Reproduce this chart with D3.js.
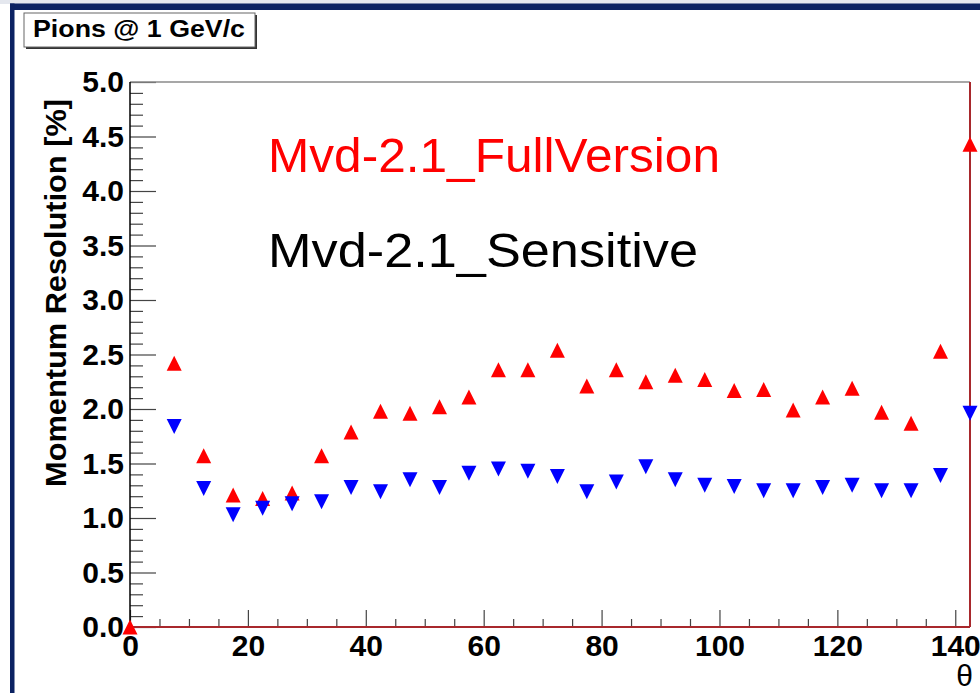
<!DOCTYPE html>
<html>
<head>
<meta charset="utf-8">
<script src="https://cdn.jsdelivr.net/npm/d3@7"></script>
<style>
  html, body { margin: 0; padding: 0; background: #ffffff; }
  svg { display: block; }
  text { font-family: "Liberation Sans", Arial, Helvetica, sans-serif; }
</style>
</head>
<body>
<svg id="chart" width="980" height="693"></svg>
<script>
// ---- data ----
const theta = [0, 7.5, 12.5, 17.5, 22.5, 27.5, 32.5, 37.5, 42.5, 47.5, 52.5, 57.5, 62.5, 67.5,
  72.5, 77.5, 82.5, 87.5, 92.5, 97.5, 102.5, 107.5, 112.5, 117.5, 122.5, 127.5, 132.5, 137.5, 142.5];
const fullVersion = [0, 2.42, 1.57, 1.21, 1.18, 1.23, 1.57, 1.79, 1.98, 1.96, 2.02, 2.11, 2.36, 2.36,
  2.54, 2.21, 2.36, 2.25, 2.31, 2.27, 2.17, 2.18, 1.99, 2.11, 2.19, 1.97, 1.87, 2.53, 4.43];
const sensitive = [null, 1.84, 1.27, 1.03, 1.09, 1.13, 1.15, 1.28, 1.24, 1.35, 1.28, 1.41, 1.45, 1.43,
  1.38, 1.24, 1.33, 1.47, 1.35, 1.30, 1.29, 1.25, 1.25, 1.28, 1.30, 1.25, 1.25, 1.39, 1.96];
const xMajorTicks = [0, 20, 40, 60, 80, 100, 120, 140];
const yMajorTicks = [0, 0.5, 1.0, 1.5, 2.0, 2.5, 3.0, 3.5, 4.0, 4.5, 5.0];
const seriesNames = ["Mvd-2.1_FullVersion", "Mvd-2.1_Sensitive"];
const plotTitle = "Pions @ 1 GeV/c";
const yTitle = "Momentum Resolution [%]";
const xTitle = "\u03b8";

// ---- layout ----
const L = 130, R = 970, T = 82, B = 627;
const svg = d3.select("#chart");

const x = d3.scaleLinear().domain([0, 142.5]).range([L, R]);
const y = d3.scaleLinear().domain([0, 5]).range([B, T]);

// outer canvas frame
svg.append("rect").attr("x", 0).attr("y", 0).attr("width", 980).attr("height", 4).attr("fill", "#e4e7ee");
svg.append("rect").attr("x", 10).attr("y", 3.5).attr("width", 970).attr("height", 6.5).attr("fill", "#0b2262");
svg.append("rect").attr("x", 10).attr("y", 3.5).attr("width", 4.5).attr("height", 690).attr("fill", "#0b2262");

// minor ticks
const yMinor = d3.range(0, 50).map(i => i / 10).filter(v => Math.abs(v * 2 - Math.round(v * 2)) > 1e-6);
svg.append("g").attr("transform", `translate(${L},0)`)
  .call(d3.axisLeft(y).tickValues(yMinor).tickSizeInner(-13).tickSizeOuter(0).tickFormat(""))
  .call(g => g.select(".domain").remove())
  .call(g => g.selectAll("line").attr("stroke", "#444").attr("stroke-width", 1.2));

const xMinor = d3.range(5, 142, 5).filter(v => v % 20 !== 0);
svg.append("g").attr("transform", `translate(0,${B})`)
  .call(d3.axisBottom(x).tickValues(xMinor).tickSizeInner(-8).tickSizeOuter(0).tickFormat(""))
  .call(g => g.select(".domain").remove())
  .call(g => g.selectAll("line").attr("stroke", "#444").attr("stroke-width", 1.2));

// major ticks + labels
svg.append("g").attr("transform", `translate(${L},0)`)
  .call(d3.axisLeft(y).tickValues(yMajorTicks).tickSizeInner(-26).tickSizeOuter(0).tickPadding(6)
    .tickFormat(d3.format(".1f")))
  .call(g => g.select(".domain").remove())
  .call(g => g.selectAll("line").attr("stroke", "#444").attr("stroke-width", 1.2))
  .call(g => g.selectAll("text").attr("font-size", 30).attr("font-weight", "bold").attr("fill", "#000")
    .attr("font-family", "'Liberation Sans', Arial, sans-serif"));

svg.append("g").attr("transform", `translate(0,${B})`)
  .call(d3.axisBottom(x).tickValues(xMajorTicks).tickSizeInner(-17).tickSizeOuter(0).tickPadding(8)
    .tickFormat(d3.format("d")))
  .call(g => g.select(".domain").remove())
  .call(g => g.selectAll("line").attr("stroke", "#444").attr("stroke-width", 1.2))
  .call(g => g.selectAll("text").attr("font-size", 30).attr("font-weight", "bold").attr("fill", "#000")
    .attr("font-family", "'Liberation Sans', Arial, sans-serif"));

// frame lines
svg.append("line").attr("x1", L).attr("x2", R).attr("y1", T).attr("y2", T).attr("stroke", "#8a8a8a").attr("stroke-width", 1.5);
svg.append("line").attr("x1", L).attr("x2", L).attr("y1", T).attr("y2", B).attr("stroke", "#000").attr("stroke-width", 1.5);
svg.append("line").attr("x1", L).attr("x2", R).attr("y1", B).attr("y2", B).attr("stroke", "#a8282c").attr("stroke-width", 2);
svg.append("line").attr("x1", R).attr("x2", R).attr("y1", T).attr("y2", B).attr("stroke", "#a8282c").attr("stroke-width", 2);

// markers
const tri = (w, h, up) => up
  ? `M0,${-h / 2}L${w / 2},${h / 2}L${-w / 2},${h / 2}Z`
  : `M0,${h / 2}L${w / 2},${-h / 2}L${-w / 2},${-h / 2}Z`;

const redPts = theta.map((t, i) => ({ t, v: fullVersion[i] })).filter(d => d.v != null);
const bluePts = theta.map((t, i) => ({ t, v: sensitive[i] })).filter(d => d.v != null);

svg.append("g").selectAll("path").data(redPts).join("path")
  .attr("d", tri(15, 15, true))
  .attr("transform", d => `translate(${x(d.t)},${y(d.v)})`)
  .attr("fill", "#ff0000");

svg.append("g").selectAll("path").data(bluePts).join("path")
  .attr("d", tri(15, 15, false))
  .attr("transform", d => `translate(${x(d.t)},${y(d.v)})`)
  .attr("fill", "#0000ff");

// legend texts
svg.append("text").attr("x", 268).attr("y", 172).attr("font-size", 49).attr("fill", "#ff0000")
  .attr("textLength", 452).attr("lengthAdjust", "spacingAndGlyphs").text(seriesNames[0]);
svg.append("text").attr("x", 268).attr("y", 267).attr("font-size", 49).attr("fill", "#000000")
  .attr("textLength", 430).attr("lengthAdjust", "spacingAndGlyphs").text(seriesNames[1]);

// axis titles
svg.append("text").attr("transform", "translate(66,293) rotate(-90)").attr("text-anchor", "middle")
  .attr("font-size", 30).attr("font-weight", "bold").attr("fill", "#000")
  .attr("textLength", 388).attr("lengthAdjust", "spacingAndGlyphs").text(yTitle);
svg.append("text").attr("x", 973).attr("y", 686).attr("text-anchor", "end")
  .attr("font-size", 30).attr("fill", "#000").text(xTitle);

// title box
svg.append("rect").attr("x", 26).attr("y", 15).attr("width", 231).attr("height", 34).attr("fill", "#333");
svg.append("rect").attr("x", 24).attr("y", 13).attr("width", 231).attr("height", 34)
  .attr("fill", "#fff").attr("stroke", "#666").attr("stroke-width", 1);
svg.append("text").attr("x", 33).attr("y", 37).attr("font-size", 23).attr("font-weight", "bold")
  .attr("textLength", 212).attr("lengthAdjust", "spacingAndGlyphs").attr("fill", "#000").text(plotTitle);
</script>
</body>
</html>
